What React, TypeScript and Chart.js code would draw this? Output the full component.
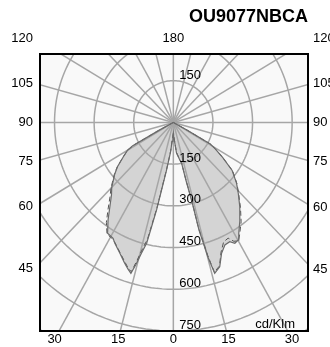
import React, { useEffect, useRef } from "react";
import { Chart, registerables } from "chart.js";

Chart.register(...registerables);

const TITLE = "OU9077NBCA";
const UNIT = "cd/Klm";

// Polar grid
const RING_VALUES = [150, 300, 450, 600, 750, 900, 1050, 1200];
const RING_LABELS_BELOW = [150, 300, 450, 600, 750];
const RING_LABELS_ABOVE = [150];
const SPOKE_STEP = 15;
const SIDE_ANGLES = [105, 90, 75, 60, 45];
const BOTTOM_ANGLES = [-30, -15, 0, 15, 30];
const BOTTOM_LABELS = ["30", "15", "0", "15", "30"];
const TOP_LABELS = ["120", "180", "120"];

// Plane A (solid, filled) – angle from nadir (deg) and intensity (cd/klm)
const A_LEFT_ANGLES = [0, 2, 4, 5.5, 7, 8.6, 10.4, 11.4, 12.4, 13.1, 14.4, 15.5, 16.5, 18, 20, 23.3, 27, 28.7, 32, 35.2, 38.4, 42, 45, 50, 53, 57, 60, 61.5, 62.5, 63.5, 90];
const A_LEFT_VALUES = [40, 50, 68, 105, 130, 175, 247, 321, 384, 446, 486, 530, 566, 555, 539, 512, 488, 475, 470, 429, 387, 350, 330, 290, 265, 225, 200, 175, 60, 0, 0];
const A_RIGHT_ANGLES = [0, 2, 4, 6.2, 9, 10.3, 12, 13, 13.9, 14.1, 15.2, 16.1, 18.7, 21.2, 23.9, 26.5, 28.2, 30.1, 31.9, 35.7, 39.7, 44, 47.6, 52.2, 56, 59, 61, 62, 63, 90];
const A_RIGHT_VALUES = [40, 50, 70, 111, 128, 137, 150, 220, 295, 400, 505, 565, 548, 505, 482, 479, 493, 489, 469, 432, 394, 354, 324, 282, 225, 185, 160, 60, 0, 0];

// Plane B (dashed)
const B_LEFT_ANGLES = [0, 2, 4, 5.5, 7, 8.6, 10.4, 11.4, 12.4, 13.1, 14.4, 15.5, 16.5, 18, 20, 23.3, 27, 28.7, 32, 35.2, 38.4, 42, 45, 50, 53, 57, 60, 61.5, 62.5, 63.5, 90];
const B_LEFT_VALUES = [40, 50, 66, 100, 128, 170, 240, 312, 372, 430, 470, 515, 560, 552, 535, 510, 486, 478, 474, 440, 398, 358, 334, 292, 266, 226, 200, 172, 60, 0, 0];
const B_RIGHT_ANGLES = [0, 2, 4, 6.2, 9, 10.3, 12, 13, 13.9, 14.1, 15.2, 16.1, 18.7, 21.2, 23.9, 26.5, 28.2, 30.1, 31.9, 35.7, 39.7, 44, 47.6, 52.2, 56, 59, 61, 62, 63, 90];
const B_RIGHT_VALUES = [40, 50, 68, 108, 126, 135, 148, 212, 285, 390, 495, 560, 545, 500, 470, 465, 485, 492, 475, 440, 398, 356, 326, 284, 226, 186, 160, 60, 0, 0];

const X_MIN = -505;
const X_MAX = 510;
const Y_MIN = -750;
const Y_MAX = 246;

const FONT = "'Liberation Sans', Arial, sans-serif";
const GRID_COLOR = "#a6a6a6";
const FILL_COLOR = "#d4d4d4";
const BG_COLOR = "#f9f9f9";

const rad = (d: number) => (d * Math.PI) / 180;

function planePoints(la: number[], lv: number[], ra: number[], rv: number[]) {
  const pts: { x: number; y: number }[] = [];
  for (let i = la.length - 1; i >= 0; i--) {
    const t = rad(la[i]);
    pts.push({ x: -lv[i] * Math.sin(t), y: -lv[i] * Math.cos(t) });
  }
  for (let i = 0; i < ra.length; i++) {
    const t = rad(ra[i]);
    pts.push({ x: rv[i] * Math.sin(t), y: -rv[i] * Math.cos(t) });
  }
  return pts;
}

const polarPlugin = {
  id: "polarGrid",
  beforeDatasetsDraw(chart: any) {
    const { ctx, chartArea: a, scales } = chart;
    const sx = scales.x;
    const sy = scales.y;
    const px = (v: number) => sx.getPixelForValue(v);
    const py = (v: number) => sy.getPixelForValue(v);
    const cx = px(0);
    const cy = py(0);
    ctx.save();
    ctx.fillStyle = BG_COLOR;
    ctx.fillRect(a.left, a.top, a.right - a.left, a.bottom - a.top);
    ctx.beginPath();
    ctx.rect(a.left, a.top, a.right - a.left, a.bottom - a.top);
    ctx.clip();

    // lobe fill from plane A points
    const meta = chart.getDatasetMeta(0);
    ctx.beginPath();
    meta.data.forEach((p: any, i: number) => {
      if (i === 0) ctx.moveTo(p.x, p.y);
      else ctx.lineTo(p.x, p.y);
    });
    ctx.closePath();
    ctx.fillStyle = FILL_COLOR;
    ctx.fill();

    // rings
    ctx.strokeStyle = GRID_COLOR;
    ctx.lineWidth = 1.5;
    for (const r of RING_VALUES) {
      ctx.beginPath();
      for (let d = 0; d <= 360; d += 2) {
        const t = rad(d);
        const X = px(r * Math.sin(t));
        const Y = py(-r * Math.cos(t));
        if (d === 0) ctx.moveTo(X, Y);
        else ctx.lineTo(X, Y);
      }
      ctx.closePath();
      ctx.stroke();
    }
    // spokes
    for (let d = 0; d < 360; d += SPOKE_STEP) {
      const t = rad(d);
      ctx.beginPath();
      ctx.moveTo(cx, cy);
      ctx.lineTo(px(3000 * Math.sin(t)), py(-3000 * Math.cos(t)));
      ctx.stroke();
    }
    ctx.restore();
  },
  afterDatasetsDraw(chart: any) {
    const { ctx, chartArea: a, scales } = chart;
    const sx = scales.x;
    const sy = scales.y;
    const px = (v: number) => sx.getPixelForValue(v);
    const py = (v: number) => sy.getPixelForValue(v);
    const cx = px(0);
    const cy = py(0);
    ctx.save();
    ctx.fillStyle = "#000";
    ctx.font = `13px ${FONT}`;

    // ring labels
    ctx.textAlign = "left";
    ctx.textBaseline = "alphabetic";
    for (const r of RING_LABELS_BELOW) ctx.fillText(String(r), cx + 6, py(-r) - 2.5);
    for (const r of RING_LABELS_ABOVE) ctx.fillText(String(r), cx + 6, py(r) - 2);

    // unit
    ctx.textAlign = "right";
    ctx.fillText(UNIT, a.right - 13, a.bottom - 3);

    // side labels
    ctx.textBaseline = "middle";
    const leftEdgeData = Math.abs(sx.getValueForPixel(a.left - 5));
    const rightEdgeData = Math.abs(sx.getValueForPixel(a.right + 5));
    for (const ang of SIDE_ANGLES) {
      const t = rad(ang);
      const Il = leftEdgeData / Math.sin(t);
      const Ir = rightEdgeData / Math.sin(t);
      ctx.textAlign = "right";
      ctx.fillText(String(ang), a.left - 7, py(-Il * Math.cos(t)));
      ctx.textAlign = "left";
      ctx.fillText(String(ang), a.right + 5, py(-Ir * Math.cos(t)));
    }
    // top labels
    const topY = a.top - 16;
    ctx.textAlign = "right";
    ctx.fillText(TOP_LABELS[0], a.left - 7, topY);
    ctx.textAlign = "center";
    ctx.fillText(TOP_LABELS[1], cx, topY);
    ctx.textAlign = "left";
    ctx.fillText(TOP_LABELS[2], a.right + 5, topY);

    // bottom labels
    const botY = a.bottom + 8;
    const botData = Math.abs(sy.getValueForPixel(botY));
    ctx.textAlign = "center";
    BOTTOM_ANGLES.forEach((ang, i) => {
      const t = rad(ang);
      const I = botData / Math.cos(t);
      ctx.fillText(BOTTOM_LABELS[i], px(I * Math.sin(t)), botY);
    });

    // title
    ctx.font = `bold 18px ${FONT}`;
    ctx.textAlign = "right";
    ctx.fillText(TITLE, a.right, a.top - 37);

    // frame
    ctx.strokeStyle = "#000";
    ctx.lineWidth = 2;
    ctx.strokeRect(a.left, a.top, a.right - a.left, a.bottom - a.top);
    ctx.restore();
  },
};

export default function App() {
  const ref = useRef<HTMLCanvasElement | null>(null);
  useEffect(() => {
    if (!ref.current) return;
    const chart = new Chart(ref.current, {
      type: "scatter",
      data: {
        datasets: [
          {
            label: "Plane A",
            data: planePoints(A_LEFT_ANGLES, A_LEFT_VALUES, A_RIGHT_ANGLES, A_RIGHT_VALUES),
            showLine: true,
            borderColor: "#6b6b6b",
            borderWidth: 1.2,
            pointRadius: 0,
            fill: false,
          },
          {
            label: "Plane B",
            data: planePoints(B_LEFT_ANGLES, B_LEFT_VALUES, B_RIGHT_ANGLES, B_RIGHT_VALUES),
            showLine: true,
            borderColor: "#555555",
            borderWidth: 1,
            borderDash: [5, 3],
            pointRadius: 0,
            fill: false,
          },
        ],
      },
      options: {
        animation: false,
        responsive: false,
        events: [],
        layout: { padding: { left: 40, top: 54, right: 22, bottom: 16 } },
        plugins: { legend: { display: false }, tooltip: { enabled: false }, title: { display: false } },
        scales: {
          x: { type: "linear", min: X_MIN, max: X_MAX, display: false },
          y: { type: "linear", min: Y_MIN, max: Y_MAX, display: false },
        },
      },
      plugins: [polarPlugin],
    } as any);
    return () => chart.destroy();
  }, []);
  return (
    <div style={{ position: "absolute", left: 0, top: 0, width: 330, height: 347, background: "#fff" }}>
      <canvas ref={ref} width={330} height={347} style={{ display: "block" }} />
    </div>
  );
}
